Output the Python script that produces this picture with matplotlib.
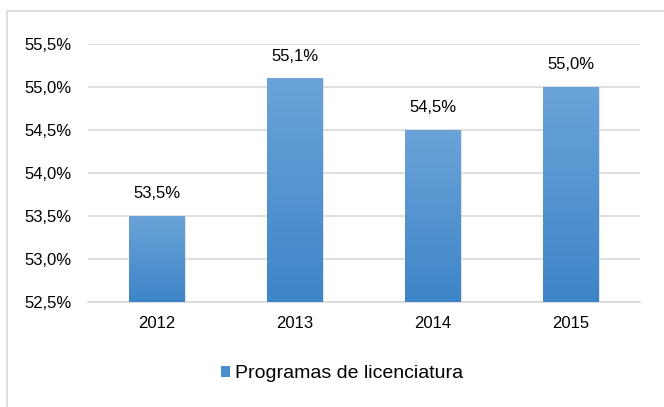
import numpy as np
import matplotlib.pyplot as plt
from matplotlib.patches import Rectangle, Patch
from matplotlib.ticker import FuncFormatter
from matplotlib.colors import LinearSegmentedColormap

plt.rcParams['font.family'] = ['Liberation Sans', 'DejaVu Sans']

years = ['2012', '2013', '2014', '2015']
valores = [53.5, 55.1, 54.5, 55.0]
etiquetas = ['53,5%', '55,1%', '54,5%', '55,0%']
serie = 'Programas de licenciatura'

fig = plt.figure(figsize=(6.64, 4.07), dpi=100)
ax = fig.add_axes([88 / 664, 1 - 302 / 407, 552 / 664, 258 / 407])

x = np.arange(len(years))
bars = ax.bar(x, valores, width=0.405, color='#4A8FD0', zorder=3)
ax.set_ylim(52.5, 55.5)
ax.set_xlim(-0.5, len(years) - 0.5)

# degradado en las barras
grad = np.linspace(0, 1, 256).reshape(-1, 1)
cmap = LinearSegmentedColormap.from_list('azul', ['#3D85C8', '#6BA3D9'])
for b in bars:
    bx, bw, bh = b.get_x(), b.get_width(), b.get_height()
    # sombra
    ax.add_patch(Rectangle((bx + 0.008, 52.5), bw, bh - 52.5 - 0.01, color='#c8c8c8',
                           alpha=0.5, zorder=2, lw=0))
    im = ax.imshow(grad, extent=(bx, bx + bw, 52.5, bh), origin='lower', cmap=cmap,
                   aspect='auto', zorder=3.5)
    im.set_clip_path(b)

for xi, v, t in zip(x, valores, etiquetas):
    ax.annotate(t, (xi, v), xytext=(0, 16), textcoords='offset points',
                ha='center', va='center', fontsize=12, color='#000000')

ax.set_yticks(np.arange(52.5, 55.51, 0.5))
ax.yaxis.set_major_formatter(FuncFormatter(lambda v, p: ('%.1f%%' % v).replace('.', ',')))
ax.set_xticks(x)
ax.set_xticklabels(years)
ax.tick_params(axis='both', length=0, labelsize=12, colors='#000000')
ax.tick_params(axis='y', pad=12)
ax.tick_params(axis='x', pad=10)
ax.grid(axis='y', color='#D9D9D9', lw=1.2, zorder=0)
for s in ['top', 'right', 'left']:
    ax.spines[s].set_visible(False)
ax.spines['bottom'].set_color('#D9D9D9')
ax.spines['bottom'].set_linewidth(1.2)
ax.set_aspect('auto')

handles = [Patch(facecolor='#4A8FD0', label=serie)]
fig.legend(handles=handles, loc='center', bbox_to_anchor=(342 / 664, 1 - 374 / 407),
           frameon=False, fontsize=14, handlelength=0.5, handleheight=0.5, handletextpad=0.25)

fig.add_artist(Rectangle((7 / 664, -0.01), 1, 1 - 11 / 407 + 0.01, transform=fig.transFigure,
                         fill=False, edgecolor='#D9D9D9', lw=1.2))

fig.savefig('out.png', dpi=100)
